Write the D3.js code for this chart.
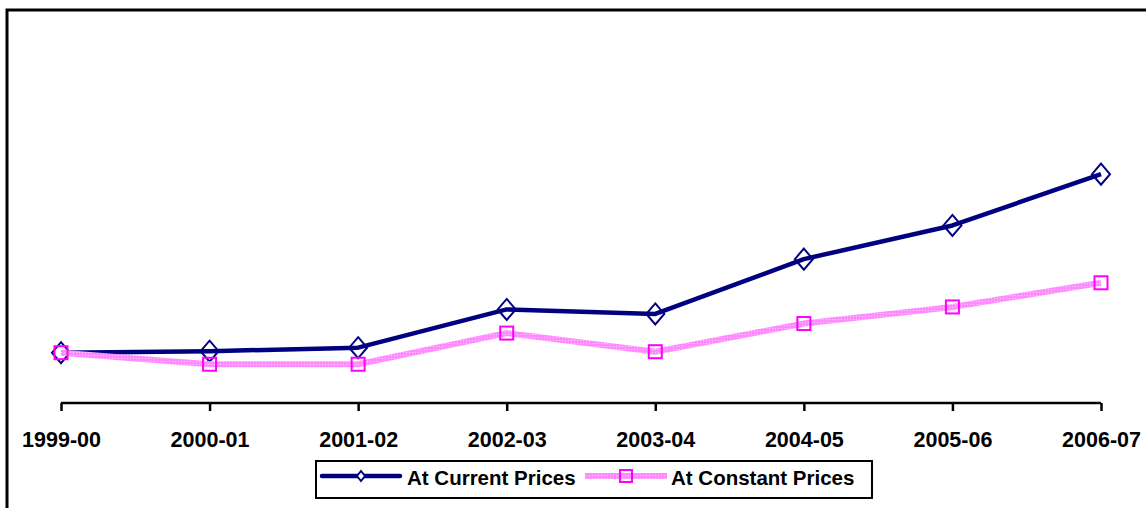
<!DOCTYPE html>
<html>
<head>
<meta charset="utf-8">
<script src="https://cdn.jsdelivr.net/npm/d3@7"></script>
<style>
  body { margin: 0; background: #fff; }
  svg { display: block; font-family: Arial, "Liberation Sans", sans-serif; }
</style>
</head>
<body>
<div class="chart"></div>
<script>
// Growth of the two price series (index, first year = 100)
var years = ["1999-00", "2000-01", "2001-02", "2002-03", "2003-04", "2004-05", "2005-06", "2006-07"];
var currentPrices = [100, 103, 110, 186, 177, 286, 353, 455];
var constantPrices = [100, 77, 77, 139, 102, 158, 191, 239];
var seriesNames = ["At Current Prices", "At Constant Prices"];

var svgWidth = 1146;
var svgHeight = 508;

var svg = d3.select(".chart")
  .append("svg")
  .attr("width", svgWidth)
  .attr("height", svgHeight);

// texture for the pink line
var defs = svg.append("defs");
var pat = defs.append("pattern")
  .attr("id", "pinkTex")
  .attr("patternUnits", "userSpaceOnUse")
  .attr("width", 3)
  .attr("height", 3);
pat.append("rect").attr("width", 3).attr("height", 3).attr("fill", "#ff8cff");
pat.append("rect").attr("x", 1).attr("y", 1).attr("width", 1).attr("height", 1).attr("fill", "#ffc8ff");

// outer frame (runs off the right and bottom)
svg.append("rect")
  .attr("x", 7)
  .attr("y", 10)
  .attr("width", 1160)
  .attr("height", 520)
  .attr("fill", "none")
  .attr("stroke", "#000")
  .attr("stroke-width", 3);

var x = d3.scalePoint().domain(years).range([61, 1101]);
var y = d3.scaleLinear().domain([0, 500]).range([403, 151.5]);

// x axis
var xAxis = d3.axisBottom(x).tickSize(8).tickPadding(21);
var gx = svg.append("g")
  .attr("transform", "translate(0,403)")
  .call(xAxis);
gx.select(".domain")
  .attr("d", "M61,0H1101")
  .attr("stroke", "#000")
  .attr("stroke-width", 2.5);
gx.selectAll(".tick line").attr("stroke", "#000").attr("stroke-width", 2.5);
gx.selectAll(".tick text")
  .attr("fill", "#000")
  .attr("font-size", 21.5)
  .attr("font-weight", "bold")
  .attr("font-family", "Arial, 'Liberation Sans', sans-serif");

var line = d3.line()
  .x(function(d, i) { return x(years[i]); })
  .y(function(d) { return y(d); });

var diamond = "M0,-10.5L9,0L0,10.5L-9,0Z";

// current prices
svg.append("path")
  .datum(currentPrices)
  .attr("d", line)
  .attr("fill", "none")
  .attr("stroke", "#000080")
  .attr("stroke-width", 4.5)
  .attr("stroke-linejoin", "round");

svg.selectAll(".cur")
  .data(currentPrices)
  .enter().append("path")
  .attr("class", "cur")
  .attr("d", diamond)
  .attr("transform", function(d, i) { return "translate(" + x(years[i]) + "," + y(d) + ")"; })
  .attr("fill", "none")
  .attr("stroke", "#000080")
  .attr("stroke-width", 2);

// constant prices
svg.append("path")
  .datum(constantPrices)
  .attr("d", line)
  .attr("fill", "none")
  .attr("stroke", "url(#pinkTex)")
  .attr("stroke-width", 6);

svg.selectAll(".con")
  .data(constantPrices)
  .enter().append("rect")
  .attr("class", "con")
  .attr("x", function(d, i) { return x(years[i]) - 6.5; })
  .attr("y", function(d) { return y(d) - 6.5; })
  .attr("width", 13)
  .attr("height", 13)
  .attr("fill", "none")
  .attr("stroke", "#ff00ff")
  .attr("stroke-width", 2);

// legend
var legend = svg.append("g");
legend.append("rect")
  .attr("x", 316)
  .attr("y", 461)
  .attr("width", 556)
  .attr("height", 37)
  .attr("fill", "#fff")
  .attr("stroke", "#000")
  .attr("stroke-width", 2);

legend.append("line")
  .attr("x1", 322).attr("x2", 400).attr("y1", 476).attr("y2", 476)
  .attr("stroke", "#000080").attr("stroke-width", 4.5).attr("stroke-linecap", "round");
legend.append("path")
  .attr("d", "M0,-5L4,0L0,5L-4,0Z")
  .attr("transform", "translate(361,476)")
  .attr("fill", "#fff")
  .attr("stroke", "#000080")
  .attr("stroke-width", 2);
legend.append("text")
  .attr("x", 407).attr("y", 484.5)
  .attr("font-size", 20.5).attr("font-weight", "bold")
  .text(seriesNames[0]);

legend.append("line")
  .attr("x1", 585).attr("x2", 667).attr("y1", 476).attr("y2", 476)
  .attr("stroke", "url(#pinkTex)").attr("stroke-width", 6);
legend.append("rect")
  .attr("x", 620).attr("y", 470).attr("width", 12).attr("height", 12)
  .attr("fill", "none")
  .attr("stroke", "#ff00ff")
  .attr("stroke-width", 2);
legend.append("text")
  .attr("x", 671).attr("y", 484.5)
  .attr("font-size", 20.5).attr("font-weight", "bold")
  .text(seriesNames[1]);
</script>
</body>
</html>
